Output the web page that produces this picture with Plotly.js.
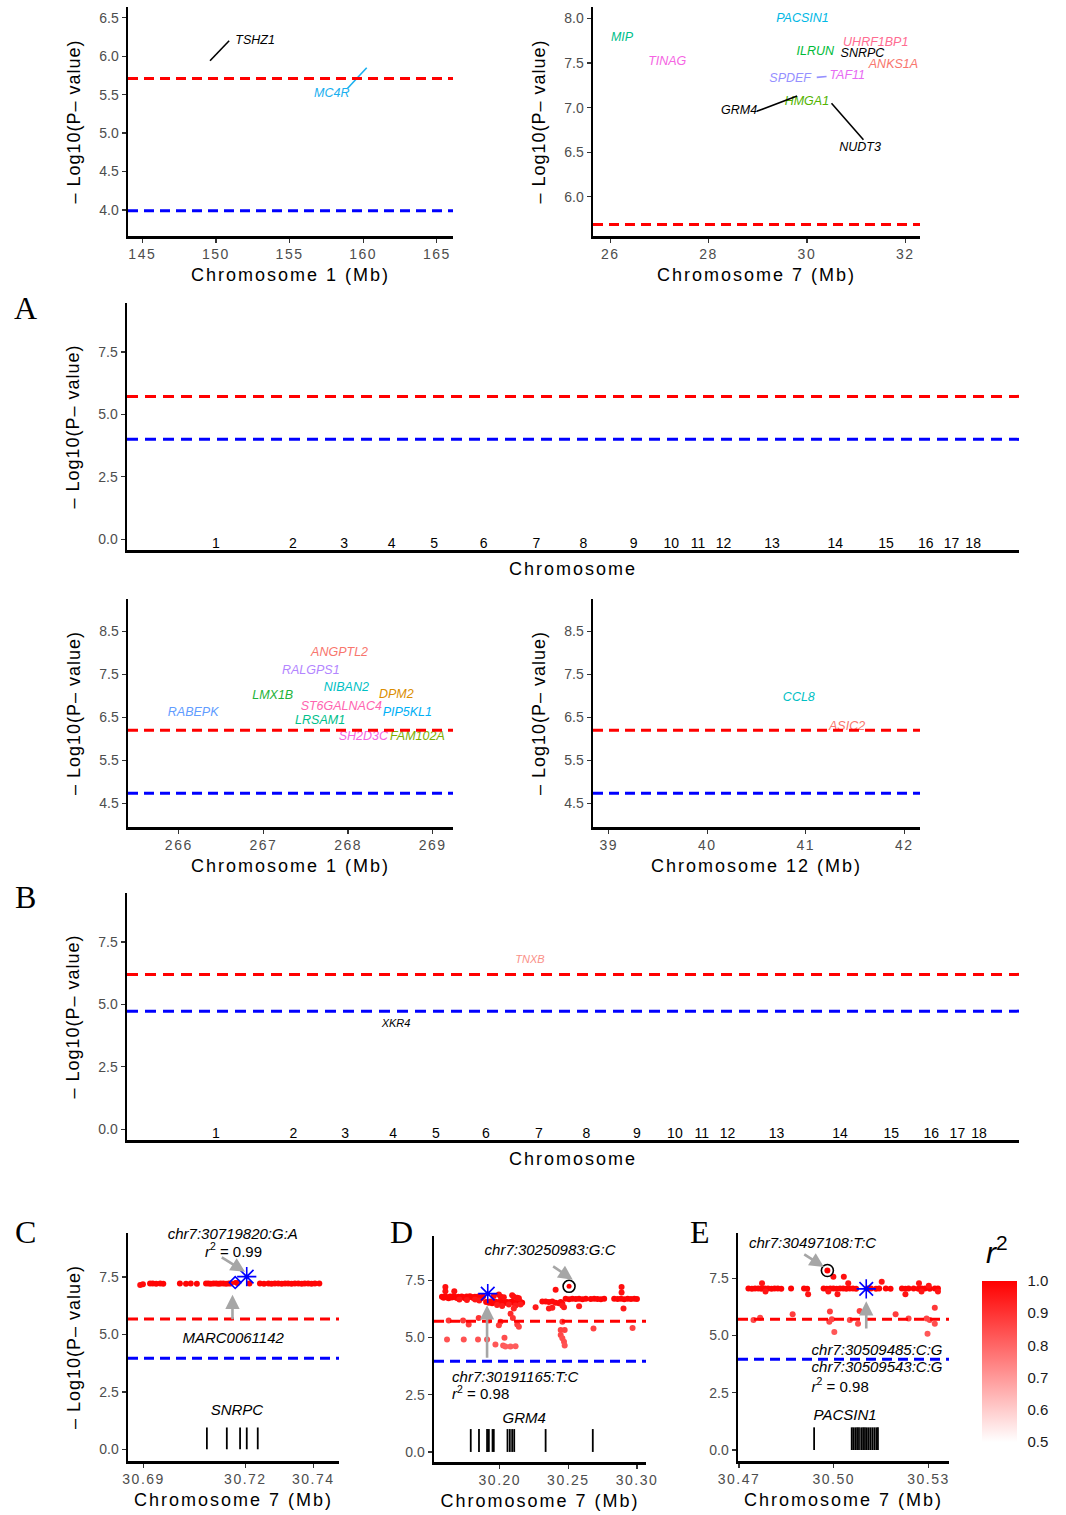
<!DOCTYPE html>
<html><head><meta charset="utf-8">
<script src="https://cdn.plot.ly/plotly-3.0.1.min.js"></script>
<style>
body{margin:0;background:#fff}
#chart{width:1066px;height:1515px}
text[class^="x"][class$="title"]{letter-spacing:2px}
text[class^="y"][class$="title"]{letter-spacing:1px}
g.xtick text, g.x2tick text, g.x4tick text, g.x5tick text, g.x7tick text, g.x8tick text, g.x9tick text{letter-spacing:1.5px}
</style>
</head><body><div id="chart"></div>
<script>
// ---------------- DATA ----------------
// Pig chromosome lengths (Mb) for the genome-wide panels
const chromNames = ['1','2','3','4','5','6','7','8','9','10','11','12','13','14','15','16','17','18'];
const chromLen = [274.33,151.94,132.85,130.91,104.53,170.84,121.84,138.97,139.51,69.36,79.17,61.60,208.33,141.76,140.41,79.94,63.49,55.98];

// Panel: chromosome 1 (145-165 Mb)
const p1Genes = ['TSHZ1','MC4R'];
const p1X = [152.66, 157.87];
const p1Y = [6.20, 5.51];
const p1Col = ['#000000','#1AAFEF'];
const p1SegX0 = [149.6, 160.24], p1SegY0 = [5.94, 5.85], p1SegX1 = [150.9, 158.93], p1SegY1 = [6.20, 5.58];
const p1Thr = [5.71, 3.99];

// Panel: chromosome 7 (26-32 Mb)
const p2Genes = ['PACSIN1','MIP','TINAG','ILRUN','SNRPC','UHRF1BP1','ANKS1A','TAF11','SPDEF','HMGA1','GRM4','NUDT3'];
const p2X = [29.91, 26.24, 27.16, 30.17, 31.13, 31.40, 31.76, 30.82, 29.66, 30.00, 28.62, 31.08];
const p2Y = [8.00, 7.78, 7.51, 7.63, 7.60, 7.73, 7.48, 7.36, 7.32, 7.07, 6.96, 6.55];
const p2Col = ['#00B8E5','#00C08B','#F564E3','#00BA38','#000000','#FF6C91','#F8766D','#E76BF3','#9590FF','#53B400','#000000','#000000'];
const p2SegX0 = [28.98, 30.50, 30.20], p2SegY0 = [6.96, 7.05, 7.34], p2SegX1 = [29.80, 31.15, 30.40], p2SegY1 = [7.13, 6.64, 7.35];
const p2SegCol = ['#000000','#000000','#9590FF'];
const p2Thr = [5.69, 3.99];

// Manhattan A
const aThr = [5.72, 4.00];

// Panel: chromosome 1 (266-269 Mb)
const p3Genes = ['ANGPTL2','RALGPS1','LMX1B','NIBAN2','DPM2','ST6GALNAC4','PIP5KL1','RABEPK','LRSAM1','SH2D3C','FAM102A'];
const p3X = [267.90, 267.56, 267.11, 267.98, 268.57, 267.92, 268.70, 266.17, 267.67, 268.18, 268.82];
const p3Y = [8.00, 7.57, 7.00, 7.18, 7.02, 6.75, 6.61, 6.61, 6.43, 6.04, 6.04];
const p3Col = ['#F8766D','#B385FF','#1FB33A','#00BFC4','#DB8E00','#FF64B0','#00B0F6','#619CFF','#00C08B','#F564E3','#7CAE00'];
const p3Thr = [6.20, 4.74];

// Panel: chromosome 12 (39-42 Mb)
const p4Genes = ['CCL8','ASIC2'];
const p4X = [40.93, 41.42];
const p4Y = [6.96, 6.29];
const p4Col = ['#00BFC4','#F8766D'];
const p4Thr = [6.20, 4.74];

// Manhattan B labels (chromosome, position in Mb)
const bGenes = ['TNXB','XKR4'];
const bChrom = [7, 4];
const bPos = [36.2, 73.6];
const bY = [6.77, 4.21];
const bCol = ['#FA8F88','#000000'];
const bThr = [6.20, 4.73];

// Panel C (SNRPC region)
const cX = [30.6890,30.6898,30.6919,30.6927,30.6937,30.6949,30.6958,30.7007,30.7025,30.7039,30.7057,30.7084,30.7091,30.7098,30.7106,30.7114,30.7121,30.7127,30.7135,30.7143,30.7151,30.7157,30.7176,30.7212,30.7243,30.7255,30.7268,30.7277,30.7287,30.7297,30.7307,30.7317,30.7326,30.7336,30.7346,30.7356,30.7366,30.7375,30.7385,30.7395,30.7405,30.7418];
const cY = [7.16,7.19,7.22,7.22,7.21,7.22,7.21,7.22,7.21,7.22,7.21,7.22,7.22,7.21,7.22,7.22,7.21,7.22,7.22,7.21,7.22,7.22,7.24,7.22,7.22,7.21,7.22,7.21,7.22,7.22,7.21,7.22,7.22,7.21,7.22,7.22,7.21,7.22,7.22,7.21,7.22,7.22];
const cR2 = [0.97,0.98,0.99,0.99,0.99,0.99,0.99,0.99,0.99,0.99,0.99,0.99,0.99,0.99,0.99,0.99,0.99,0.99,0.99,0.99,0.99,0.99,0.99,0.99,0.99,0.99,0.99,0.99,0.99,0.99,0.99,0.99,0.99,0.99,0.99,0.99,0.99,0.99,0.99,0.99,0.99,0.99];
const cLead = {x:[30.7204], y:[7.52]};
const cTop = {x:[30.7170], y:[7.26]};
const cExons = [30.70865, 30.71453, 30.71844, 30.72041, 30.72365];
const cExonTop = 0.95;
const cThr = [5.67, 3.97];

// Panel D (GRM4 region)
const dX = [30.1578,30.1590,30.1602,30.1614,30.1626,30.1638,30.1650,30.1662,30.1674,30.1686,30.1698,30.1710,30.1722,30.1734,30.1746,30.1758,30.1770,30.1782,30.1794,30.1806,30.1818,30.1830,30.1842,30.1854,30.1866,30.1878,
  30.1705,30.1760,30.1820,30.1850,
  30.1900,30.1920,30.1932,30.1944,30.1956,30.1968,30.1980,30.1993,30.2005,30.2017,30.2029,30.2041,30.2053,30.2066,30.2078,30.2090,30.2102,30.2115,30.2127,30.2139,30.2151,30.2163,
  30.1956,30.1993,30.2005,30.2029,30.2090,30.2102,30.2127,30.2139,30.1980,30.2017,30.2066,30.2115,30.2151,
  30.2310,30.2334,30.2358,30.2383,30.2407,30.2431,30.2444,30.2456,
  30.2480,30.2505,30.2529,30.2554,30.2578,30.2603,30.2627,
  30.2663,30.2688,30.2712,30.2737,30.2761,
  30.2834,30.2859,30.2883,30.2907,30.2932,30.2956,30.2981,30.3000,
  30.1603,30.1603,30.1668,30.2407,30.2888,30.2888,30.2261,30.2358,30.2383,30.2578,30.2902,30.2468,30.2456,
  30.1627,30.1732,30.1773,30.1846,30.1920,30.1993,30.2005,30.2127,30.2139,30.2078,30.2095,30.2102,
  30.1615,30.1737,30.1841,30.1907,30.2034,30.1968,30.2024,30.2041,30.2078,30.2115,
  30.2456,30.2444,30.2473,30.2444,30.2456,30.2468,30.2473,30.2683,30.2968];
const dY = [6.78,6.74,6.80,6.76,6.72,6.79,6.75,6.81,6.77,6.73,6.78,6.74,6.80,6.76,6.72,6.79,6.75,6.81,6.77,6.73,6.78,6.70,6.80,6.76,6.72,6.79,
  6.66,6.64,6.66,6.62,
  6.55,6.52,6.58,6.50,6.54,6.57,6.51,6.55,6.53,6.58,6.50,6.54,6.56,6.52,6.55,6.58,6.51,6.54,6.57,6.53,6.55,6.52,
  6.82,6.88,6.80,6.76,6.85,6.78,6.74,6.72,6.42,6.38,6.44,6.40,6.45,
  6.58,6.58,6.56,6.58,6.52,6.50,6.55,6.48,
  6.70,6.68,6.70,6.69,6.70,6.68,6.70,
  6.69,6.70,6.69,6.68,6.70,
  6.70,6.69,6.70,6.68,6.70,6.69,6.70,6.69,
  7.21,7.02,7.02,7.09,7.21,6.97,6.33,6.27,6.30,6.37,6.27,6.33,6.40,
  5.75,5.75,5.57,5.85,5.75,5.54,5.69,5.57,5.47,6.04,5.85,6.27,
  4.92,4.92,4.92,4.92,4.99,4.70,4.65,4.61,4.61,4.62,
  5.69,5.33,5.33,5.11,4.97,4.82,4.65,5.40,5.42];
const dR2 = [0.99,0.99,0.99,0.99,0.99,0.99,0.99,0.99,0.99,0.99,0.99,0.99,0.99,0.99,0.99,0.99,0.99,0.99,0.99,0.99,0.99,0.99,0.99,0.99,0.99,0.99,
  0.96,0.96,0.96,0.96,
  0.99,0.99,0.99,0.99,0.99,0.99,0.99,0.99,0.99,0.99,0.99,0.99,0.99,0.99,0.99,0.99,0.99,0.99,0.99,0.99,0.99,0.99,
  0.97,0.97,0.97,0.97,0.97,0.97,0.97,0.97,0.95,0.95,0.95,0.95,0.95,
  0.98,0.98,0.98,0.98,0.98,0.98,0.98,0.98,
  0.99,0.99,0.99,0.99,0.99,0.99,0.99,
  0.99,0.99,0.99,0.99,0.99,
  0.99,0.99,0.99,0.99,0.99,0.99,0.99,0.99,
  0.97,0.97,0.97,0.97,0.97,0.97,0.95,0.95,0.95,0.95,0.95,0.95,0.95,
  0.89,0.89,0.88,0.90,0.89,0.88,0.89,0.88,0.87,0.92,0.90,0.93,
  0.84,0.84,0.84,0.85,0.85,0.83,0.83,0.82,0.82,0.82,
  0.89,0.87,0.87,0.86,0.85,0.85,0.84,0.87,0.87];
const dLead = {x:[30.1912], y:[6.92]};
const dTop = {x:[30.2505], y:[7.24]};
const dExons = [30.1788,30.1848,30.1907,30.1920,30.1947,30.1956,30.2056,30.2073,30.2090,30.2105,30.2334,30.2678];
const dExonTop = 1.0;
const dThr = [5.71, 3.96];

// Panel E (PACSIN1 region)
const eX = [30.4730,30.4741,30.4751,30.4761,30.4771,30.4782,30.4792,30.4803,30.4813,30.4823,30.4834,30.4865,30.4906,30.4916,
  30.4968,30.4978,30.4989,30.4999,30.5009,30.5020,30.5030,30.5040,30.5051,30.5061,30.5071,30.5108,30.5118,30.5134,30.5144,30.5165,30.5180,
  30.5216,30.5227,30.5237,30.5253,30.5268,30.5278,30.5289,30.5304,30.5320,30.5330,
  30.4980,30.4999,30.5032,30.4773,30.5046,30.5152,30.5270,30.5301,
  30.4784,30.4919,30.5012,30.4983,30.5227,30.5278,30.5330,
  30.4870,30.4988,30.5320,30.5082,30.4746,30.4767,30.4994,30.4986,30.5051,30.5077,30.5196,30.5237,30.5294,30.5304,30.5320,30.5002,30.5297];
const eY = [7.06,7.05,7.06,7.06,7.05,7.06,7.06,7.05,7.06,7.06,7.05,7.06,7.06,7.05,
  7.06,7.05,7.06,7.06,7.05,7.06,7.06,7.05,7.06,7.06,7.05,7.06,7.06,7.05,7.06,7.06,7.05,
  7.06,7.05,7.06,7.06,7.05,7.06,7.06,7.05,7.06,7.06,
  7.84,7.57,7.57,7.28,7.28,7.35,7.28,7.18,
  6.92,6.80,6.80,6.92,6.80,6.92,6.92,
  5.93,6.05,6.22,6.07,5.68,5.78,5.71,5.60,5.68,5.52,5.93,5.75,5.75,5.68,5.52,5.15,5.08];
const eR2 = [0.99,0.99,0.99,0.99,0.99,0.99,0.99,0.99,0.99,0.99,0.99,0.99,0.99,0.99,
  0.99,0.99,0.99,0.99,0.99,0.99,0.99,0.99,0.99,0.99,0.99,0.99,0.99,0.99,0.99,0.99,0.99,
  0.99,0.99,0.99,0.99,0.99,0.99,0.99,0.99,0.99,0.99,
  0.98,0.97,0.97,0.96,0.96,0.96,0.96,0.96,
  0.96,0.96,0.96,0.96,0.96,0.96,0.96,
  0.88,0.88,0.89,0.88,0.86,0.86,0.87,0.86,0.86,0.85,0.88,0.86,0.86,0.86,0.85,0.83,0.83];
const eLead = {x:[30.5103], y:[7.04]};
const eTop = {x:[30.4980], y:[7.84]};
const eExons = [30.4938,30.5057,30.5062,30.5068,30.5074,30.5080,30.5087,30.5093,30.5099,30.5105,30.5111,30.5117,30.5123,30.5129,30.5135,30.5140];
const eExonTop = 0.99;
const eThr = [5.71, 3.96];

// Annotation texts in C, D, E
const cLabels = ['chr7:30719820:G:A','<i>r</i><sup>2</sup> = 0.99','MARC0061142','SNRPC'];
const cLabX = [30.7163, 30.7165, 30.7164, 30.7175];
const cLabY = [9.32, 8.55, 4.81, 1.64];
const cLabItalic = [true, false, true, true];
const cLabPos = ['middle center','middle center','middle center','middle center'];
const dLabels = ['chr7:30250983:G:C','chr7:30191165:T:C','<i>r</i><sup>2</sup> = 0.98','GRM4'];
const dLabX = [30.2366, 30.1652, 30.1652, 30.2178];
const dLabY = [8.77, 3.21, 2.48, 1.43];
const dLabItalic = [true, true, false, true];
const dLabPos = ['middle center','middle right','middle right','middle center'];
const eLabels = ['chr7:30497108:T:C','chr7:30509485:C:G','chr7:30509543:C:G','<i>r</i><sup>2</sup> = 0.98','PACSIN1'];
const eLabX = [30.4933, 30.4930, 30.4930, 30.4930, 30.5036];
const eLabY = [8.98, 4.33, 3.57, 2.72, 1.46];
const eLabItalic = [true, true, true, false, true];
const eLabPos = ['middle center','middle right','middle right','middle right','middle center'];

// Arrows: tip and tail (data coords)
const cArrows = {tipX:[30.7199,30.7162], tipY:[7.73,6.73], tailX:[30.7126,30.7162], tailY:[8.40,5.60]};
const dArrows = {tipX:[30.2532,30.1907], tipY:[7.53,6.41], tailX:[30.2378,30.1907], tailY:[8.16,4.05]};
const eArrows = {tipX:[30.4969,30.5103], tipY:[8.00,6.50], tailX:[30.4902,30.5103], tailY:[8.59,5.24]};

const r2Ticks = [0.5,0.6,0.7,0.8,0.9,1.0];

// ---------------- BUILD ----------------
const FONT = 'Liberation Sans, Arial, Helvetica, sans-serif';
const W = 1066, H = 1515;
const px = (a,b)=>[a/W, b/W];
const py = (top,bot)=>[1-bot/H, 1-top/H];

const offsets = []; let acc = 0;
chromLen.forEach(l=>{offsets.push(acc); acc += l;});
const chromMid = chromLen.map((l,i)=>offsets[i]+l/2);

const traces = [];
const shapes = [];
const annotations = [];

function labelTrace(xs, ys, texts, cols, xa, ya, size){
  traces.push({type:'scatter', mode:'text', x:xs, y:ys, text:texts, xaxis:xa, yaxis:ya,
    textposition:'middle center', cliponaxis:false, hoverinfo:'skip',
    textfont:{family:FONT, size:size, style:'italic', color:cols}});
}
function segTraces(x0,y0,x1,y1,cols,xa,ya){
  x0.forEach((v,i)=>{
    traces.push({type:'scatter', mode:'lines', x:[x0[i],x1[i]], y:[y0[i],y1[i]], xaxis:xa, yaxis:ya,
      line:{color:cols[i], width:1.6}, hoverinfo:'skip'});
  });
}
function thr(vals, xa, ya, dash){
  const colors = ['#FF0000','#0000FF'];
  vals.forEach((v,i)=>{
    shapes.push({type:'line', xref:xa+' domain', yref:ya, x0:0, x1:1, y0:v, y1:v,
      line:{color:colors[i], width:3, dash:dash}});
  });
}
function exonTrace(ex, top, xa, ya){
  const xs=[], ys=[];
  ex.forEach(v=>{xs.push(v,v,null); ys.push(0,top,null);});
  traces.push({type:'scatter', mode:'lines', x:xs, y:ys, xaxis:xa, yaxis:ya,
    line:{color:'#000', width:1.8}, hoverinfo:'skip'});
}
const CS = [[0,'#FFFFFF'],[1,'#FF0000']];
// colour bar geometry (pixels)
const CB = {left:982, top:1281, bottom:1442, thick:35};
function pointTrace(xs, ys, r2, xa, ya, withBar){
  const t = {type:'scatter', mode:'markers', x:xs, y:ys, xaxis:xa, yaxis:ya, hoverinfo:'skip',
    marker:{size:6, color:r2, colorscale:CS, cmin:0.5, cmax:1, showscale:!!withBar, line:{width:0}}};
  if(withBar){
    t.marker.colorbar = {x:CB.left/W, xanchor:'left', y:1-(CB.top+CB.bottom)/2/H, yanchor:'middle', len:(CB.bottom-CB.top)/H, lenmode:'fraction',
      thickness:CB.thick, thicknessmode:'pixels', outlinewidth:0, xpad:0, ypad:0,
      tickvals:r2Ticks, ticktext:r2Ticks.map(v=>v.toFixed(1)), ticks:'outside', ticklen:8, tickcolor:'rgba(255,255,255,0)', tickwidth:1,
      tickfont:{family:FONT, size:15, color:'#1A1A1A'}};
  }
  traces.push(t);
}
function leadTraces(lead, top, topSymbol, xa, ya){
  traces.push({type:'scatter', mode:'markers', x:top.x, y:top.y, xaxis:xa, yaxis:ya, hoverinfo:'skip',
    marker:{size:5, color:'#FF0000'}});
  traces.push({type:'scatter', mode:'markers', x:top.x, y:top.y, xaxis:xa, yaxis:ya, hoverinfo:'skip',
    marker:{symbol:topSymbol.symbol, size:topSymbol.size, color:topSymbol.color, line:{color:topSymbol.color, width:1.6}}});
  traces.push({type:'scatter', mode:'markers', x:lead.x, y:lead.y, xaxis:xa, yaxis:ya, hoverinfo:'skip',
    marker:{symbol:'asterisk-open', size:16, color:'#0000FF', line:{color:'#0000FF', width:1.6}}});
}
function textTrace(texts, xs, ys, italic, pos, xa, ya){
  texts.forEach((t,i)=>{
    traces.push({type:'scatter', mode:'text', x:[xs[i]], y:[ys[i]], text:[t], xaxis:xa, yaxis:ya, hoverinfo:'skip',
      textposition:pos[i], cliponaxis:false,
      textfont:{family:FONT, size:15, color:'#000', style: italic[i] ? 'italic':'normal'}});
  });
}
function arrows(a, xa, ya){
  a.tipX.forEach((v,i)=>{
    annotations.push({xref:xa, yref:ya, axref:xa, ayref:ya, x:a.tipX[i], y:a.tipY[i], ax:a.tailX[i], ay:a.tailY[i],
      text:'', showarrow:true, arrowhead:2, arrowsize:1.1, arrowwidth:2.6, arrowcolor:'#A6A6A6', standoff:0, startstandoff:0});
  });
}

// Panel 1
labelTrace(p1X, p1Y, p1Genes, p1Col, 'x', 'y', 12.5);
segTraces(p1SegX0, p1SegY0, p1SegX1, p1SegY1, p1Col, 'x', 'y');
thr(p1Thr, 'x', 'y', '10px,6px');
// Panel 2
labelTrace(p2X, p2Y, p2Genes, p2Col, 'x2', 'y2', 12.5);
segTraces(p2SegX0, p2SegY0, p2SegX1, p2SegY1, p2SegCol, 'x2', 'y2');
thr(p2Thr, 'x2', 'y2', '10px,6px');
// Manhattan A
traces.push({type:'scatter', mode:'markers', x:[], y:[], xaxis:'x3', yaxis:'y3'});
thr(aThr, 'x3', 'y3', '11px,7px');
// Panel 3
labelTrace(p3X, p3Y, p3Genes, p3Col, 'x4', 'y4', 12.5);
thr(p3Thr, 'x4', 'y4', '10px,6px');
// Panel 4
labelTrace(p4X, p4Y, p4Genes, p4Col, 'x5', 'y5', 12.5);
thr(p4Thr, 'x5', 'y5', '10px,6px');
// Manhattan B
labelTrace(bPos.map((p,i)=>offsets[bChrom[i]-1]+p), bY, bGenes, bCol, 'x6', 'y6', 11);
thr(bThr, 'x6', 'y6', '11px,7px');
// C
exonTrace(cExons, cExonTop, 'x7', 'y7');
pointTrace(cX, cY, cR2, 'x7', 'y7', false);
leadTraces(cLead, cTop, {symbol:'diamond-open', size:9, color:'#0000FF'}, 'x7', 'y7');
textTrace(cLabels, cLabX, cLabY, cLabItalic, cLabPos, 'x7', 'y7');
arrows(cArrows, 'x7', 'y7');
thr(cThr, 'x7', 'y7', '10px,6px');
// D
exonTrace(dExons, dExonTop, 'x8', 'y8');
pointTrace(dX, dY, dR2, 'x8', 'y8', false);
leadTraces(dLead, dTop, {symbol:'circle-open', size:12, color:'#000000'}, 'x8', 'y8');
textTrace(dLabels, dLabX, dLabY, dLabItalic, dLabPos, 'x8', 'y8');
arrows(dArrows, 'x8', 'y8');
thr(dThr, 'x8', 'y8', '10px,6px');
// E
exonTrace(eExons, eExonTop, 'x9', 'y9');
pointTrace(eX, eY, eR2, 'x9', 'y9', true);
leadTraces(eLead, eTop, {symbol:'circle-open', size:12, color:'#000000'}, 'x9', 'y9');
textTrace(eLabels, eLabX, eLabY, eLabItalic, eLabPos, 'x9', 'y9');
arrows(eArrows, 'x9', 'y9');
thr(eThr, 'x9', 'y9', '10px,6px');

// colour bar title and white tick marks on the bar
annotations.push({xref:'paper', yref:'paper', x:997/W, y:1-1250/H, text:'<i>r</i><sup>2</sup>', showarrow:false,
  xanchor:'center', yanchor:'middle', font:{family:FONT, size:30, color:'#000'}});
r2Ticks.forEach(v=>{
  const yy = 1-(CB.bottom-(v-0.5)/0.5*(CB.bottom-CB.top))/H;
  [[CB.left, CB.left+6],[CB.left+CB.thick-6, CB.left+CB.thick]].forEach(s=>{
    shapes.push({type:'line', xref:'paper', yref:'paper', x0:s[0]/W, x1:s[1]/W, y0:yy, y1:yy, line:{color:'#FFFFFF', width:1.2}, layer:'above'});
  });
});

// panel letters
const letters = [['A',25,308],['B',25,897],['C',25,1232],['D',401,1232],['E',700,1232]];
letters.forEach(l=>annotations.push({xref:'paper', yref:'paper', x:l[1]/W, y:1-l[2]/H, text:l[0], showarrow:false,
  xanchor:'center', yanchor:'middle', font:{family:'Liberation Serif, Times New Roman, serif', size:32, color:'#000'}}));

// ---------------- AXES ----------------
const YT = '\u2013 Log10(P\u2013 value)';
function axis(domain, range, o){
  return Object.assign({domain:domain, range:range, showgrid:false, zeroline:false, showline:true, linecolor:'#000', linewidth:2.5,
    ticks:'outside', ticklen:4, tickwidth:1.3, tickcolor:'#333', tickfont:{family:FONT, size:14, color:'#4D4D4D'}, fixedrange:true}, o);
}
const xt = (t, s)=>({text:t, font:{family:FONT, size:18, color:'#000'}, standoff:s});
const manX = {ticks:'', ticklabelstandoff:-21, tickfont:{family:FONT, size:14, color:'#000'}};
const layout = {
  width:W, height:H, margin:{l:0,r:0,t:0,b:0}, showlegend:false, paper_bgcolor:'#fff', plot_bgcolor:'rgba(0,0,0,0)',
  font:{family:FONT}, shapes:shapes, annotations:annotations,
  xaxis: axis(px(128,453), [144.03,166.1], {anchor:'y', tickvals:[145,150,155,160,165], title:xt('Chromosome 1 (Mb)',7)}),
  yaxis: axis(py(7,236), [3.66,6.64], {anchor:'x', tickvals:[4,4.5,5,5.5,6,6.5], tickformat:'.1f', title:xt(YT,14)}),
  xaxis2: axis(px(593,920), [25.65,32.3], {anchor:'y2', tickvals:[26,28,30,32], title:xt('Chromosome 7 (Mb)',7)}),
  yaxis2: axis(py(7,236), [5.56,8.13], {anchor:'x2', tickvals:[6,6.5,7,7.5,8], tickformat:'.1f', title:xt(YT,14)}),
  xaxis3: axis(px(127,1019), [-109.7,2365], Object.assign({anchor:'y3', tickvals:chromMid, ticktext:chromNames, title:xt('Chromosome',12)}, manX)),
  yaxis3: axis(py(303,550), [-0.43,9.46], {anchor:'x3', tickvals:[0,2.5,5,7.5], tickformat:'.1f', title:xt(YT,14)}),
  xaxis4: axis(px(128,453), [265.4,269.24], {anchor:'y4', tickvals:[266,267,268,269], title:xt('Chromosome 1 (Mb)',7)}),
  yaxis4: axis(py(599,827), [3.955,9.25], {anchor:'x4', tickvals:[4.5,5.5,6.5,7.5,8.5], tickformat:'.1f', title:xt(YT,14)}),
  xaxis5: axis(px(593,920), [38.84,42.16], {anchor:'y5', tickvals:[39,40,41,42], title:xt('Chromosome 12 (Mb)',7)}),
  yaxis5: axis(py(599,827), [3.955,9.25], {anchor:'x5', tickvals:[4.5,5.5,6.5,7.5,8.5], tickformat:'.1f', title:xt(YT,14)}),
  xaxis6: axis(px(127,1019), [-107.8,2347.6], Object.assign({anchor:'y6', tickvals:chromMid, ticktext:chromNames, title:xt('Chromosome',12)}, manX)),
  yaxis6: axis(py(893,1140), [-0.43,9.46], {anchor:'x6', tickvals:[0,2.5,5,7.5], tickformat:'.1f', title:xt(YT,14)}),
  xaxis7: axis(px(128,339), [30.6854,30.7476], {anchor:'y7', tickvals:[30.69,30.72,30.74], tickformat:'.2f', title:xt('Chromosome 7 (Mb)',7)}),
  yaxis7: axis(py(1233,1461), [-0.51,9.42], {anchor:'x7', tickvals:[0,2.5,5,7.5], tickformat:'.1f', title:xt(YT,14)}),
  xaxis8: axis(px(434,646), [30.152,30.3066], {anchor:'y8', tickvals:[30.20,30.25,30.30], tickformat:'.2f', title:xt('Chromosome 7 (Mb)',7)}),
  yaxis8: axis(py(1236,1462), [-0.44,9.44], {anchor:'x8', tickvals:[0,2.5,5,7.5], tickformat:'.1f'}),
  xaxis9: axis(px(738,949), [30.4697,30.5365], {anchor:'y9', tickvals:[30.47,30.50,30.53], tickformat:'.2f', title:xt('Chromosome 7 (Mb)',7)}),
  yaxis9: axis(py(1233,1461), [-0.48,9.48], {anchor:'x9', tickvals:[0,2.5,5,7.5], tickformat:'.1f'})
};
Plotly.newPlot('chart', traces, layout, {staticPlot:true, displayModeBar:false});
</script></body></html>
